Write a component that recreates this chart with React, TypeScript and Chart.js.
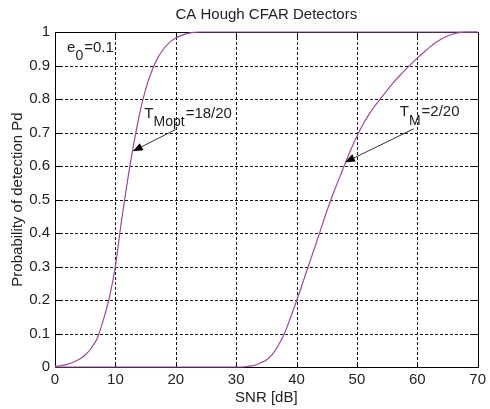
import React, { useEffect, useRef } from "react";
import { Chart, registerables } from "chart.js";

Chart.register(...registerables);

const titleText = "CA Hough CFAR Detectors";
const xAxisLabel = "SNR [dB]";
const yAxisLabel = "Probability of detection Pd";

const xTickValues = [0, 10, 20, 30, 40, 50, 60, 70];
const yTickValues = [0, 0.1, 0.2, 0.3, 0.4, 0.5, 0.6, 0.7, 0.8, 0.9, 1];
const yTickLabels = ["0", "0.1", "0.2", "0.3", "0.4", "0.5", "0.6", "0.7", "0.8", "0.9", "1"];

// Curve 1: T_Mopt = 18/20
const snrOpt = [0, 1, 2, 3, 4, 5, 6, 7, 8, 9, 10, 11, 12, 13, 14, 15, 16, 17, 18, 19, 20, 21, 22, 23, 24, 30, 40, 50, 60, 70];
const pdOpt = [0.002, 0.004, 0.008, 0.014, 0.023, 0.036, 0.056, 0.086, 0.14, 0.207, 0.3, 0.435, 0.555, 0.662, 0.755, 0.828, 0.882, 0.922, 0.95, 0.969, 0.982, 0.99, 0.996, 0.999, 1, 1, 1, 1, 1, 1];

// Curve 2: T_M = 2/20
const snrM = [0, 10, 20, 30, 31, 32, 33, 34, 35, 36, 37, 38, 39, 40, 41, 42, 43, 44, 45, 46, 47, 48, 49, 50, 51, 52, 53, 54, 55, 56, 57, 58, 59, 60, 61, 62, 63, 64, 65, 66, 67, 68, 69, 70];
const pdM = [0, 0, 0, 0, 0, 0.002, 0.005, 0.012, 0.021, 0.038, 0.065, 0.1, 0.147, 0.197, 0.25, 0.303, 0.356, 0.41, 0.464, 0.514, 0.56, 0.605, 0.649, 0.689, 0.724, 0.754, 0.78, 0.803, 0.826, 0.848, 0.868, 0.887, 0.905, 0.922, 0.938, 0.954, 0.968, 0.979, 0.988, 0.994, 0.998, 1, 1, 1];

// Annotations (data coordinates)
const e0Label = { x: 2.0, y: 0.954, main: "e", sub: "0", rest: "=0.1" };
const optLabel = { x: 14.8, y: 0.757, main: "T", sub: "Mopt", rest: "=18/20" };
const mLabel = { x: 57.1, y: 0.761, main: "T", sub: "M", rest: "=2/20" };
const optArrow = { x0: 20.0, y0: 0.709, x1: 12.87, y1: 0.644 };
const mArrow = { x0: 59.4, y0: 0.711, x1: 48.03, y1: 0.611 };

const FONT = "'Liberation Sans', Arial, sans-serif";
const LINE_COLOR = "#9a4c9a";
const TEXT_COLOR = "#222";

function toPoints(xs: number[], ys: number[]) {
  return xs.map((x, i) => ({ x, y: ys[i] }));
}

const framePlugin = {
  id: "frame",
  beforeDatasetsDraw(chart: any) {
    const { ctx, chartArea } = chart;
    const xs = chart.scales.x;
    const ys = chart.scales.y;
    const { left, right, top, bottom } = chartArea;
    ctx.save();
    // title centred over the plot box
    ctx.fillStyle = TEXT_COLOR;
    ctx.font = `15px ${FONT}`;
    ctx.textAlign = "center";
    ctx.textBaseline = "middle";
    ctx.fillText(titleText, (left + right) / 2, 15);
    // dashed grid
    ctx.strokeStyle = "#111";
    ctx.lineWidth = 1;
    ctx.setLineDash([3, 2]);
    xTickValues.forEach((v) => {
      const px = Math.round(xs.getPixelForValue(v)) + 0.5;
      if (px <= left + 1 || px >= right - 1) return;
      ctx.beginPath();
      ctx.moveTo(px, top);
      ctx.lineTo(px, bottom);
      ctx.stroke();
    });
    yTickValues.forEach((v) => {
      const py = Math.round(ys.getPixelForValue(v)) + 0.5;
      if (py <= top + 1 || py >= bottom - 1) return;
      ctx.beginPath();
      ctx.moveTo(left, py);
      ctx.lineTo(right, py);
      ctx.stroke();
    });
    ctx.setLineDash([]);
    // box
    ctx.strokeStyle = "#000";
    ctx.strokeRect(Math.round(left) + 0.5, Math.round(top) + 0.5, Math.round(right - left), Math.round(bottom - top));
    // inward ticks
    const tl = 5;
    xTickValues.forEach((v) => {
      const px = Math.round(xs.getPixelForValue(v)) + 0.5;
      ctx.beginPath();
      ctx.moveTo(px, bottom);
      ctx.lineTo(px, bottom - tl);
      ctx.moveTo(px, top);
      ctx.lineTo(px, top + tl);
      ctx.stroke();
    });
    yTickValues.forEach((v) => {
      const py = Math.round(ys.getPixelForValue(v)) + 0.5;
      ctx.beginPath();
      ctx.moveTo(left, py);
      ctx.lineTo(left + tl, py);
      ctx.moveTo(right, py);
      ctx.lineTo(right - tl, py);
      ctx.stroke();
    });
    ctx.restore();
  },
  afterDatasetsDraw(chart: any) {
    const { ctx } = chart;
    const xs = chart.scales.x;
    const ys = chart.scales.y;
    ctx.save();
    ctx.fillStyle = TEXT_COLOR;
    ctx.textBaseline = "middle";
    ctx.textAlign = "left";
    const drawLabel = (l: any) => {
      let px = xs.getPixelForValue(l.x);
      const py = ys.getPixelForValue(l.y);
      ctx.font = `15px ${FONT}`;
      ctx.fillText(l.main, px, py);
      px += ctx.measureText(l.main).width;
      ctx.font = `14px ${FONT}`;
      ctx.fillText(l.sub, px, py + 9);
      px += ctx.measureText(l.sub).width + 1;
      ctx.font = `15px ${FONT}`;
      ctx.fillText(l.rest, px, py);
    };
    drawLabel(e0Label);
    drawLabel(optLabel);
    drawLabel(mLabel);
    const drawArrow = (a: any) => {
      const x0 = xs.getPixelForValue(a.x0);
      const y0 = ys.getPixelForValue(a.y0);
      const x1 = xs.getPixelForValue(a.x1);
      const y1 = ys.getPixelForValue(a.y1);
      const ang = Math.atan2(y1 - y0, x1 - x0);
      const hl = 10;
      const hw = 4;
      const bx = x1 - hl * Math.cos(ang);
      const by = y1 - hl * Math.sin(ang);
      ctx.strokeStyle = "#333";
      ctx.lineWidth = 1;
      ctx.beginPath();
      ctx.moveTo(x0, y0);
      ctx.lineTo(bx, by);
      ctx.stroke();
      ctx.fillStyle = "#000";
      ctx.beginPath();
      ctx.moveTo(x1, y1);
      ctx.lineTo(bx + hw * Math.sin(ang), by - hw * Math.cos(ang));
      ctx.lineTo(bx - hw * Math.sin(ang), by + hw * Math.cos(ang));
      ctx.closePath();
      ctx.fill();
    };
    drawArrow(optArrow);
    drawArrow(mArrow);
    ctx.restore();
  },
};

export default function App() {
  const canvasRef = useRef<HTMLCanvasElement | null>(null);
  useEffect(() => {
    document.body.style.margin = "0";
    const canvas = canvasRef.current;
    if (!canvas) return;
    const chart = new Chart(canvas, {
      type: "line",
      data: {
        datasets: [
          {
            label: "T_Mopt=18/20",
            data: toPoints(snrOpt, pdOpt),
            borderColor: LINE_COLOR,
            borderWidth: 1.2,
            pointRadius: 0,
            fill: false,
            cubicInterpolationMode: "monotone",
            clip: false as any,
          },
          {
            label: "T_M=2/20",
            data: toPoints(snrM, pdM),
            borderColor: LINE_COLOR,
            borderWidth: 1.2,
            pointRadius: 0,
            fill: false,
            cubicInterpolationMode: "monotone",
            clip: false as any,
          },
        ],
      },
      options: {
        responsive: false,
        animation: false,
        devicePixelRatio: 1,
        layout: { padding: { left: 0, right: 9, top: 32, bottom: 0 } },
        plugins: {
          legend: { display: false },
          tooltip: { enabled: false },
          title: { display: false },
        },
        scales: {
          x: {
            type: "linear",
            min: 0,
            max: 70,
            grid: { display: false, drawTicks: false },
            border: { display: false },
            afterBuildTicks: (s: any) => {
              s.ticks = xTickValues.map((v) => ({ value: v }));
            },
            afterFit: (s: any) => {
              s.height = 42;
            },
            ticks: {
              color: TEXT_COLOR,
              font: { family: FONT, size: 15 },
              padding: 4,
              maxRotation: 0,
              callback: (v: any) => String(v),
            },
            title: {
              display: true,
              text: xAxisLabel,
              color: TEXT_COLOR,
              font: { family: FONT, size: 15 },
              padding: { top: 0, bottom: 2 },
            },
          },
          y: {
            type: "linear",
            min: 0,
            max: 1,
            grid: { display: false, drawTicks: false },
            border: { display: false },
            afterBuildTicks: (s: any) => {
              s.ticks = yTickValues.map((v) => ({ value: v }));
            },
            afterFit: (s: any) => {
              s.width = 55;
            },
            ticks: {
              color: TEXT_COLOR,
              font: { family: FONT, size: 15 },
              padding: 5,
              callback: (v: any) => {
                const i = yTickValues.findIndex((t) => Math.abs(t - v) < 1e-9);
                return i >= 0 ? yTickLabels[i] : "";
              },
            },
            title: {
              display: true,
              text: yAxisLabel,
              color: TEXT_COLOR,
              font: { family: FONT, size: 15 },
              padding: { top: 9, bottom: 0 },
            },
          },
        },
      },
      plugins: [framePlugin],
    });
    return () => chart.destroy();
  }, []);
  return (
    <canvas
      ref={canvasRef}
      width={490}
      height={409}
      style={{ display: "block", width: 490, height: 409 }}
    />
  );
}
